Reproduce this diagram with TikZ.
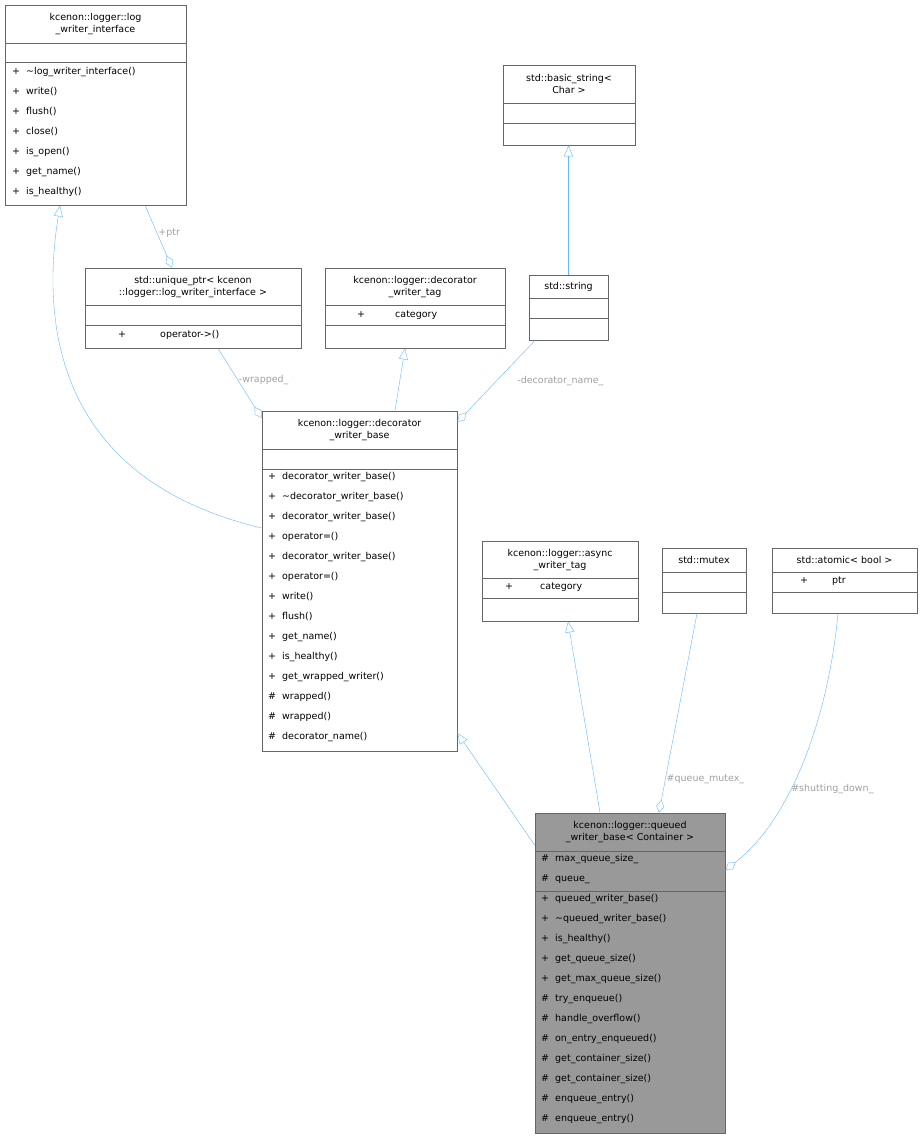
\documentclass[tikz,border=0pt]{standalone}
\usepackage{fontspec}
\setmainfont{DejaVu Sans}
\usetikzlibrary{arrows.meta}
\definecolor{edgeblue}{RGB}{99,184,255}
\definecolor{labelgray}{RGB}{160,160,160}
\definecolor{boxline}{RGB}{102,102,102}
\definecolor{focusfill}{RGB}{153,153,153}

\begin{document}
\begin{tikzpicture}[x=1pt, y=-1pt,
    box/.style={rectangle, draw=boxline, thick, inner sep=0pt},
    title/.style={align=center, font=\fontsize{9.5}{11.5}\selectfont, inner sep=0pt},
    member/.style={anchor=west, font=\fontsize{9.5}{11.5}\selectfont, inner sep=0pt},
    divider/.style={draw=boxline, thick},
    inherit/.style={draw=edgeblue, -{Triangle[open, length=11pt, width=9pt]}},
    uses/.style={draw=edgeblue, -{Diamond[open, length=13pt, width=8pt]}},
    edgelabel/.style={text=labelgray, font=\fontsize{9.5}{11.5}\selectfont, inner sep=1pt}
]
    \useasboundingbox (0,0) rectangle (921,1139);

    % class boxes
    \node[box, minimum width=181pt, minimum height=200pt] (logif) at (95.5,105) {};
    \node[box, minimum width=132pt, minimum height=80pt] (bstring) at (569,105) {};
    \node[box, minimum width=216pt, minimum height=80pt] (uptr) at (193,308) {};
    \node[box, minimum width=180pt, minimum height=80pt] (dectag) at (415,308) {};
    \node[box, minimum width=79pt, minimum height=65pt] (stdstr) at (568.5,307.5) {};
    \node[box, minimum width=195pt, minimum height=340pt] (decbase) at (359.5,581) {};
    \node[box, minimum width=156pt, minimum height=80pt] (asynctag) at (560,581) {};
    \node[box, minimum width=84pt, minimum height=65pt] (mutex) at (704,580.5) {};
    \node[box, minimum width=145pt, minimum height=65pt] (atomic) at (844.5,580.5) {};
    \node[box, fill=focusfill, minimum width=190pt, minimum height=320pt] (queued) at (630,973) {};

    % titles
    \node[title] at (95.5,24) {kcenon::logger::log\\\_writer\_interface};
    \node[title] at (569,84) {std::basic\_string<\\Char >};
    \node[title] at (193,287) {std::unique\_ptr< kcenon\\::logger::log\_writer\_interface >};
    \node[title] at (415,287) {kcenon::logger::decorator\\\_writer\_tag};
    \node[title] at (568.5,287) {std::string};
    \node[title] at (359.5,430) {kcenon::logger::decorator\\\_writer\_base};
    \node[title] at (560,560) {kcenon::logger::async\\\_writer\_tag};
    \node[title] at (704,560) {std::mutex};
    \node[title] at (844.5,560) {std::atomic< bool >};
    \node[title] at (630,832) {kcenon::logger::queued\\\_writer\_base< Container >};

    % section dividers
    \draw[divider] (5,43) -- (186,43) (5,62) -- (186,62);
    \draw[divider] (503,103) -- (635,103) (503,123) -- (635,123);
    \draw[divider] (85,305) -- (301,305) (85,325) -- (301,325);
    \draw[divider] (325,305) -- (505,305) (325,325) -- (505,325);
    \draw[divider] (529,298) -- (608,298) (529,318) -- (608,318);
    \draw[divider] (262,449) -- (457,449) (262,469) -- (457,469);
    \draw[divider] (482,578) -- (638,578) (482,598) -- (638,598);
    \draw[divider] (662,572) -- (746,572) (662,592) -- (746,592);
    \draw[divider] (772,572) -- (917,572) (772,592) -- (917,592);
    \draw[divider] (535,851) -- (725,851) (535,891) -- (725,891);

    % members
    \foreach \t [count=\i from 0] in {\textasciitilde log\_writer\_interface(), write(), flush(),
        close(), is\_open(), get\_name(), is\_healthy()}
        \node[member] at (12,72+20*\i) {+\hspace{6pt}\t};
    \node[member] at (118,335) {+};
    \node[member] at (160,335) {operator->()};
    \node[member] at (357,315) {+};
    \node[member] at (395,315) {category};
    \node[member] at (505,587) {+};
    \node[member] at (540,587) {category};
    \node[member] at (800,581) {+};
    \node[member] at (832,581) {ptr};
    \foreach \t [count=\i from 0] in {decorator\_writer\_base(), \textasciitilde decorator\_writer\_base(),
        decorator\_writer\_base(), operator=(), decorator\_writer\_base(), operator=(), write(),
        flush(), get\_name(), is\_healthy(), get\_wrapped\_writer()}
        \node[member] at (268,477+20*\i) {+\hspace{6pt}\t};
    \foreach \t [count=\i from 0] in {wrapped(), wrapped(), decorator\_name()}
        \node[member] at (268,697+20*\i) {\#\hspace{6pt}\t};
    \foreach \t [count=\i from 0] in {max\_queue\_size\_, queue\_}
        \node[member] at (541,859+20*\i) {\#\hspace{6pt}\t};
    \foreach \t [count=\i from 0] in {queued\_writer\_base(), \textasciitilde queued\_writer\_base(),
        is\_healthy(), get\_queue\_size(), get\_max\_queue\_size()}
        \node[member] at (541,899+20*\i) {+\hspace{6pt}\t};
    \foreach \t [count=\i from 0] in {try\_enqueue(), handle\_overflow(), on\_entry\_enqueued(),
        get\_container\_size(), get\_container\_size(), enqueue\_entry(), enqueue\_entry()}
        \node[member] at (541,999+20*\i) {\#\hspace{6pt}\t};

    % relations
    \draw[inherit] (decbase.west |- 0,528) .. controls (60,480) and (40,330) .. (logif.south -| 60,0);
    \draw[uses] (logif.south -| 145,0) -- node[edgelabel, right, pos=0.45] {+ptr} (uptr.north -| 172,0);
    \draw[uses] (uptr.south -| 218,0) -- node[edgelabel, right, pos=0.45] {-wrapped\_} (decbase.north west |- 0,418);
    \draw[inherit] (decbase.north -| 395,0) -- (dectag.south -| 405,0);
    \draw[uses] (stdstr.south -| 535,0) -- node[edgelabel, right=20pt, pos=0.5] {-decorator\_name\_} (decbase.north east |- 0,422);
    \draw[inherit] (stdstr.north) -- (bstring.south -| stdstr.north);
    \draw[inherit] (queued.west |- 0,845) -- (decbase.east |- 0,733);
    \draw[inherit] (queued.north -| 600,0) -- (asynctag.south -| 568,0);
    \draw[uses] (mutex.south -| 697,0) -- node[edgelabel, right, pos=0.83] {\#queue\_mutex\_} (queued.north -| 659,0);
    \draw[uses] (atomic.south -| 838,0) .. controls (828,720) and (790,820) .. node[edgelabel, right, pos=0.6] {\#shutting\_down\_} (queued.east |- 0,870);
\end{tikzpicture}
\end{document}
